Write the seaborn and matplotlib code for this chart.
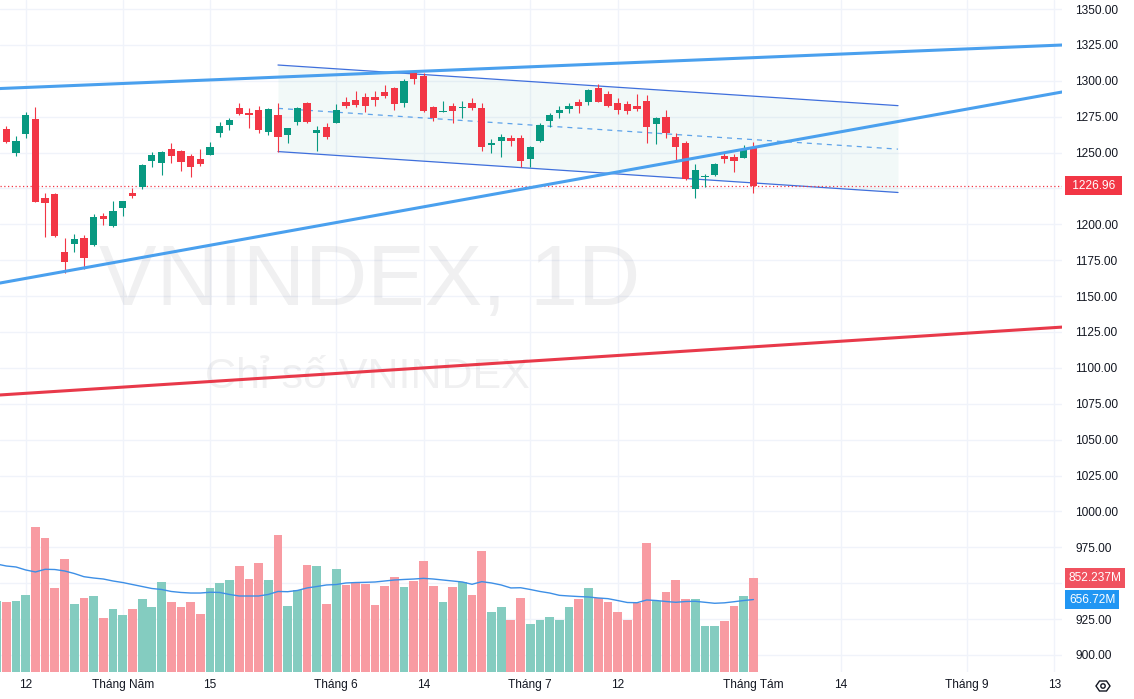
import numpy as np
import pandas as pd
import matplotlib
matplotlib.use("Agg")
import matplotlib.pyplot as plt
import matplotlib.transforms as mtransforms
from matplotlib.patches import Polygon, Circle
from matplotlib.ticker import FormatStrFormatter
import seaborn as sns

# daily candles, first one is cut off by the left edge of the chart
opens = [1251.8, 1266.4, 1249.5, 1262.7, 1273.4, 1218.6, 1221.1, 1180.7, 1186.1, 1190.5,
         1185.6, 1205.8, 1198.8, 1211.6, 1221.6, 1226.2, 1244.3, 1242.9, 1252.3, 1251.1,
         1247.6, 1245.3, 1248.1, 1263.4, 1269.4, 1281.0, 1277.8, 1279.6, 1264.5, 1276.2,
         1262.2, 1271.1, 1284.7, 1263.8, 1267.8, 1270.8, 1285.2, 1286.4, 1288.5, 1288.9,
         1292.2, 1294.8, 1284.3, 1305.2, 1303.5, 1281.5, 1278.2, 1282.4, 1281.0, 1284.7,
         1280.8, 1255.3, 1258.3, 1260.3, 1259.9, 1245.5, 1258.0, 1272.0, 1277.8, 1280.5,
         1285.4, 1285.4, 1294.8, 1290.8, 1284.5, 1283.8, 1282.4, 1285.9, 1270.1, 1275.0,
         1261.0, 1256.9, 1224.8, 1232.8, 1234.4, 1247.6, 1247.1, 1246.4, 1254.1]
highs = [1265.0, 1268.5, 1261.5, 1278.0, 1282.0, 1221.6, 1221.5, 1190.3, 1193.3, 1192.6,
         1207.2, 1208.1, 1216.3, 1216.5, 1225.1, 1242.0, 1250.4, 1250.9, 1256.9, 1251.8,
         1249.0, 1252.5, 1257.3, 1271.1, 1274.1, 1284.3, 1280.8, 1282.4, 1280.8, 1284.7,
         1267.3, 1281.9, 1285.2, 1268.7, 1270.4, 1283.8, 1288.5, 1293.1, 1291.3, 1292.7,
         1296.8, 1295.9, 1301.2, 1306.3, 1305.2, 1282.4, 1286.1, 1284.3, 1285.9, 1287.8,
         1284.7, 1259.2, 1262.9, 1262.2, 1262.0, 1254.6, 1270.8, 1277.8, 1282.4, 1284.7,
         1287.3, 1294.0, 1297.8, 1292.9, 1287.8, 1285.7, 1290.8, 1290.3, 1274.5, 1279.6,
         1263.8, 1258.3, 1241.8, 1235.1, 1242.5, 1249.5, 1249.0, 1255.3, 1257.6]
lows = [1248.0, 1257.0, 1247.8, 1259.9, 1215.5, 1191.4, 1191.5, 1165.9, 1180.9, 1168.9,
        1184.9, 1199.5, 1198.3, 1205.8, 1218.1, 1224.4, 1240.1, 1234.6, 1242.9, 1237.4,
        1233.2, 1240.8, 1248.0, 1261.0, 1265.7, 1276.2, 1267.3, 1263.8, 1262.2, 1250.2,
        1256.9, 1269.2, 1270.4, 1251.3, 1259.4, 1270.8, 1281.2, 1281.9, 1278.5, 1282.4,
        1288.0, 1279.6, 1281.5, 1297.8, 1278.5, 1272.2, 1278.0, 1270.8, 1273.9, 1279.6,
        1251.3, 1249.5, 1247.1, 1254.6, 1239.7, 1239.7, 1257.6, 1268.0, 1274.3, 1277.3,
        1277.8, 1283.3, 1285.4, 1281.9, 1276.9, 1276.6, 1279.2, 1256.4, 1256.0, 1259.9,
        1244.8, 1230.9, 1218.6, 1226.2, 1233.7, 1242.9, 1236.7, 1246.4, 1222.0]
closes = [1263.6, 1257.6, 1258.0, 1276.2, 1215.8, 1215.1, 1192.1, 1174.0, 1189.8, 1176.8,
          1205.3, 1203.7, 1209.3, 1216.3, 1219.7, 1241.3, 1248.3, 1250.4, 1247.8, 1243.6,
          1239.7, 1242.2, 1253.7, 1268.5, 1272.9, 1276.9, 1276.4, 1265.7, 1280.3, 1261.0,
          1266.9, 1281.2, 1271.1, 1265.7, 1260.6, 1279.6, 1282.4, 1283.1, 1282.4, 1286.6,
          1289.4, 1283.6, 1300.1, 1301.0, 1279.2, 1273.9, 1279.2, 1278.9, 1281.9, 1280.8,
          1253.7, 1256.4, 1261.0, 1258.0, 1244.3, 1254.1, 1269.2, 1276.2, 1279.6, 1282.4,
          1282.6, 1293.6, 1285.4, 1282.6, 1279.6, 1279.2, 1280.1, 1268.0, 1274.3, 1263.8,
          1254.1, 1231.4, 1237.8, 1233.7, 1241.8, 1245.3, 1244.3, 1251.8, 1226.96]
# volume in millions and its moving average
volumes = [644, 635, 644, 698, 1315, 1215, 762, 1022, 616, 671,
           689, 490, 571, 517, 571, 662, 589, 816, 635, 589,
           635, 526, 762, 807, 834, 961, 843, 988, 834, 1242,
           598, 743, 970, 961, 616, 934, 789, 807, 798, 607,
           780, 861, 771, 825, 1006, 780, 635, 771, 816, 698,
           1097, 544, 589, 471, 671, 435, 471, 499, 471, 589,
           662, 762, 671, 635, 544, 471, 626, 1170, 644, 725,
           834, 662, 662, 417, 417, 462, 598, 689, 852.237]
volume_ma = [979, 961, 952, 925, 907, 931, 929, 916, 893, 864,
             852, 843, 825, 811, 793, 775, 757, 748, 730, 721,
             716, 716, 723, 721, 703, 689, 689, 689, 703, 730,
             728, 739, 762, 775, 789, 793, 807, 811, 813, 816,
             825, 834, 839, 843, 849, 843, 834, 825, 816, 795,
             819, 807, 789, 762, 764, 748, 730, 716, 695, 689,
             684, 680, 671, 665, 648, 630, 628, 653, 648, 639,
             632, 639, 641, 632, 623, 627, 637, 648, 656.72]

tick_pos = [2, 12, 21, 34, 43, 54, 63, 77, 86, 99, 108]
tick_labels = ["12", "Tháng Năm", "15", "Tháng 6", "14", "Tháng 7", "12",
               "Tháng Tám", "14", "Tháng 9", "13"]
price_ticks = [900, 925, 950, 975, 1000, 1025, 1050, 1075, 1100, 1125, 1150,
               1175, 1200, 1225, 1250, 1275, 1300, 1325, 1350]

# drawings: (bar index, price) anchors
upper_trend = [(0, 1294.8), (100, 1322.5)]
lower_trend = [(0, 1159.9), (100, 1281.5)]
support_line = [(0, 1081.4), (100, 1124.6)]
channel_x = [28.0, 91.9]
channel_top = [1311.0, 1282.7]
channel_mid = [1280.8, 1252.4]
channel_bottom = [1250.7, 1222.2]

UP = "#089981"
DOWN = "#f23645"
TXT = "#131722"
GRID = "#f0f3fa"

sns.set_theme(style="white")
plt.rcParams["font.family"] = ["Liberation Sans", "DejaVu Sans"]

df = pd.DataFrame({"idx": np.arange(-1, len(closes) - 1), "open": opens, "high": highs,
                   "low": lows, "close": closes, "volume": volumes, "vol_ma": volume_ma})
df["dir"] = np.where(df["close"] >= df["open"], "up", "down")

fig = plt.figure(figsize=(11.34, 6.99), dpi=100)
fig.patch.set_facecolor("white")
ax = fig.add_axes([0, 27 / 699, 1062 / 1134, 672 / 699])
ax_vol = ax.twinx()
ax_vol.set_zorder(1)
ax.set_zorder(2)
ax.patch.set_visible(False)

# grid drawn in the lower axes so it stays behind the volume bars
tr_grid = mtransforms.blended_transform_factory(ax_vol.transAxes, ax.transData)
for p in price_ticks:
    ax_vol.plot([0, 1], [p, p], color=GRID, lw=1, transform=tr_grid, zorder=0)
for t in tick_pos:
    ax_vol.axvline(t, color=GRID, lw=1, zorder=0)

# volume pane (overlay at the bottom)
sns.barplot(data=df, x="idx", y="volume", hue="dir", palette={"up": "#84ccc0", "down": "#f89ba2"},
            native_scale=True, width=0.9, dodge=False, saturation=1, errorbar=None,
            legend=False, linewidth=0, ax=ax_vol)
sns.lineplot(data=df, x="idx", y="vol_ma", color="#3d8fe6", lw=1, ax=ax_vol)
ax_vol.set_ylim(0, 6092)
ax_vol.set_yticks([])
ax_vol.set_xlabel("")
ax_vol.set_ylabel("")

# watermark
ax_vol.text(370 / 1134, 1 - 305 / 699, "VNINDEX, 1D", transform=fig.transFigure,
            ha="center", va="baseline", fontsize=62, color="#1e222d", alpha=0.065, zorder=0)
ax_vol.text(367 / 1134, 1 - 388 / 699, "Chỉ số VNINDEX", transform=fig.transFigure,
            ha="center", va="baseline", fontsize=31, color="#1e222d", alpha=0.065, zorder=0)

# channel
ax.fill_between(channel_x, channel_bottom, channel_top, color=UP, alpha=0.05, lw=0, zorder=0.5)
ax.plot(channel_x, channel_top, color="#3f6fdc", lw=0.9, zorder=1)
ax.plot(channel_x, channel_bottom, color="#3f6fdc", lw=0.9, zorder=1)
ax.plot(channel_x, channel_mid, color="#5ea3ea", lw=0.9, ls=(0, (4, 4)), zorder=1)

# candles
cols = df["dir"].map({"up": UP, "down": DOWN})
ax.vlines(df["idx"], df["low"], df["high"], colors=cols, lw=0.8, zorder=2)
body = (df["close"] - df["open"]).abs().clip(lower=0.7)
ax.bar(df["idx"], body, bottom=np.minimum(df["open"], df["close"]), width=0.75,
       color=cols, lw=0, zorder=2.1)

ax.axhline(closes[-1], color=DOWN, lw=0.9, ls=(0, (1, 2)), zorder=1.5)

# trend lines
ax.axline(upper_trend[0], upper_trend[1], color="#4aa0ee", lw=2.2, zorder=3)
ax.axline(lower_trend[0], lower_trend[1], color="#4aa0ee", lw=2.2, zorder=3)
ax.axline(support_line[0], support_line[1], color="#e8394a", lw=2.2, zorder=3)

ax.set_xlim(-0.65, 108.8)
ax.set_ylim(888.1, 1356.3)

ax.yaxis.tick_right()
ax.set_yticks(price_ticks)
ax.yaxis.set_major_formatter(FormatStrFormatter("%.2f"))
ax.tick_params(axis="y", length=0, pad=9.4, labelsize=8.6, labelcolor=TXT)
ax.set_xticks(tick_pos, tick_labels)
ax.tick_params(axis="x", length=0, pad=5, labelsize=8.6, labelcolor=TXT)
ax.grid(False)
for a in (ax, ax_vol):
    for s in a.spines.values():
        s.set_visible(False)

# last value labels on the scale, drawn over the tick labels
tr_price = mtransforms.blended_transform_factory(ax.transAxes, ax.transData)
tr_vol = mtransforms.blended_transform_factory(ax.transAxes, ax_vol.transData)
ax.text(1.0065, closes[-1], " %.2f " % closes[-1], transform=tr_price, ha="left", va="center",
        fontsize=8.6, color="white", clip_on=False, zorder=10,
        bbox=dict(boxstyle="square,pad=0.3", fc=DOWN, ec="none"))
ax.text(1.0065, volumes[-1], "%.3fM" % volumes[-1], transform=tr_vol, ha="left", va="center",
        fontsize=8.6, color="white", clip_on=False, zorder=10,
        bbox=dict(boxstyle="square,pad=0.3", fc="#f0525f", ec="none"))
ax.text(1.0065, volume_ma[-1], "%.2fM" % volume_ma[-1], transform=tr_vol, ha="left", va="center",
        fontsize=8.6, color="white", clip_on=False, zorder=10,
        bbox=dict(boxstyle="square,pad=0.3", fc="#2196f3", ec="none"))

# eye icon at the bottom right corner
eye = np.array([(-7, 0), (-3.5, 5), (3.5, 5), (7, 0), (3.5, -5), (-3.5, -5)]) / 100 + [11.03, 0.13]
fig.add_artist(Polygon(eye, closed=True, fill=False, ec=TXT, lw=1, transform=fig.dpi_scale_trans))
fig.add_artist(Circle((11.03, 0.13), 0.022, fill=False, ec=TXT, lw=1, transform=fig.dpi_scale_trans))

fig.savefig("out.png", dpi=100, facecolor="white")
